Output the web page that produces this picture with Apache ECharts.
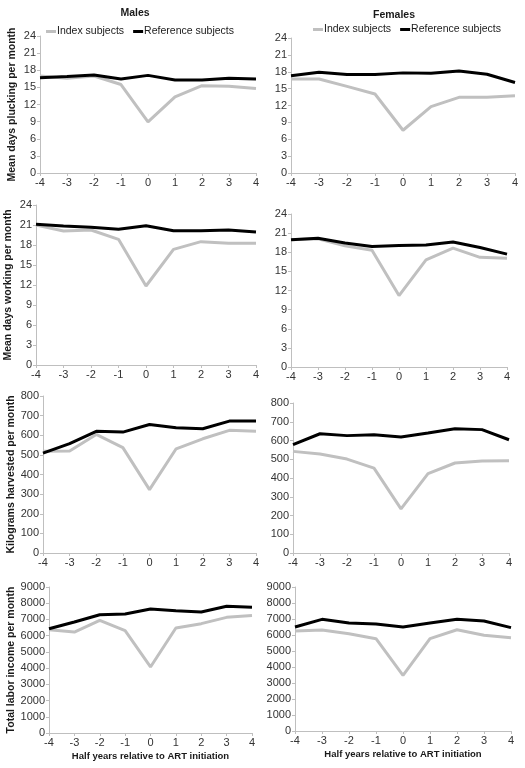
<!DOCTYPE html>
<html>
<head>
<meta charset="utf-8">
<script src="https://cdn.jsdelivr.net/npm/echarts@6/dist/echarts.min.js"></script>
<style>
html,body{margin:0;padding:0;background:#fff;}
#chart{width:525px;height:768px;}
</style>
</head>
<body>
<div id="chart"></div>
<script>
// ---- data ----
const xCats = ['-4', '-3', '-2', '-1', '0', '1', '2', '3', '4'];
const seriesNames = ['Index subjects', 'Reference subjects'];
const panelTitles = ['Males', 'Females'];
const yNames = ['Mean days plucking per month', 'Mean days working per month', 'Kilograms harvested per month', 'Total labor income per month'];
const xName = 'Half years relative to ART initiation';

const malesPluckIndex = [17.0, 16.6, 17.0, 15.5, 8.95, 13.35, 15.3, 15.2, 14.8];
const malesPluckRef   = [16.7, 16.9, 17.15, 16.45, 17.1, 16.3, 16.3, 16.6, 16.45];
const femalesPluckIndex = [16.7, 16.7, 15.4, 14.05, 7.6, 11.8, 13.45, 13.45, 13.75];
const femalesPluckRef   = [17.3, 17.9, 17.5, 17.5, 17.8, 17.75, 18.15, 17.55, 16.1];

const malesWorkIndex = [21.0, 20.1, 20.25, 18.85, 11.85, 17.35, 18.5, 18.25, 18.25];
const malesWorkRef   = [21.1, 20.85, 20.65, 20.35, 20.9, 20.15, 20.15, 20.25, 19.95];
const femalesWorkIndex = [19.95, 20.1, 19.0, 18.3, 11.2, 16.8, 18.65, 17.2, 17.05];
const femalesWorkRef   = [19.95, 20.2, 19.45, 18.9, 19.05, 19.15, 19.6, 18.75, 17.7];

const malesHarvIndex = [518, 520, 604, 537, 323, 531, 582, 625, 621];
const malesHarvRef   = [509, 557, 620, 616, 655, 638, 633, 672, 672];
const femalesHarvIndex = [542, 528, 501, 453, 235, 423, 480, 491, 492];
const femalesHarvRef   = [578, 636, 626, 631, 619, 640, 663, 658, 604];

const malesIncIndex = [6370, 6220, 6940, 6310, 4070, 6470, 6740, 7130, 7250];
const malesIncRef   = [6430, 6840, 7290, 7330, 7640, 7540, 7460, 7810, 7750];
const femalesIncIndex = [6250, 6310, 6080, 5770, 3480, 5770, 6330, 5980, 5830];
const femalesIncRef   = [6500, 6980, 6750, 6690, 6500, 6750, 6980, 6880, 6460];

const yMax = [24, 24, 800, 9000];
const yInterval = [3, 3, 100, 1000];

// ---- layout ----
const grids = [
  {left: 40, top: 36, width: 216, height: 137},
  {left: 291, top: 38, width: 224, height: 135},
  {left: 36, top: 205, width: 220, height: 160},
  {left: 291, top: 214, width: 216, height: 153},
  {left: 43, top: 396, width: 213, height: 157},
  {left: 293, top: 403, width: 216, height: 150},
  {left: 49, top: 587, width: 203, height: 146},
  {left: 295, top: 587, width: 216, height: 144}
];
const panelData = [
  [malesPluckIndex, malesPluckRef], [femalesPluckIndex, femalesPluckRef],
  [malesWorkIndex, malesWorkRef], [femalesWorkIndex, femalesWorkRef],
  [malesHarvIndex, malesHarvRef], [femalesHarvIndex, femalesHarvRef],
  [malesIncIndex, malesIncRef], [femalesIncIndex, femalesIncRef]
];

const FONT = 'Liberation Sans, Arial, sans-serif';
const axisColor = '#bfbfbf';
const labelColor = '#333333';
const xAxes = [], yAxes = [], series = [];

grids.forEach((g, i) => {
  const row = Math.floor(i / 2), col = i % 2;
  const isBottom = row === 3;
  xAxes.push({
    type: 'category', gridIndex: i, data: xCats, boundaryGap: false,
    axisLine: {lineStyle: {color: axisColor, width: 1}},
    axisTick: {show: true, length: 3, lineStyle: {color: axisColor}},
    axisLabel: {color: labelColor, fontSize: 11, fontFamily: FONT, margin: 4},
    name: isBottom ? xName : '', nameLocation: 'middle', nameGap: 18,
    nameTextStyle: {fontWeight: 'bold', fontSize: 9.5, color: '#1a1a1a', fontFamily: FONT}
  });
  yAxes.push({
    type: 'value', gridIndex: i, min: 0, max: yMax[row], interval: yInterval[row],
    splitLine: {show: false},
    axisLine: {show: true, lineStyle: {color: axisColor, width: 1}},
    axisTick: {show: true, length: 3, lineStyle: {color: axisColor}},
    axisLabel: {color: labelColor, fontSize: 11, fontFamily: FONT, margin: 4,
                formatter: (v) => String(v)},
    name: col === 0 ? yNames[row] : '', nameLocation: 'middle', nameGap: 22, nameRotate: 90,
    nameTextStyle: {fontWeight: 'bold', fontSize: 10.5, color: '#1a1a1a', fontFamily: FONT}
  });
  series.push({
    name: seriesNames[0], type: 'line', xAxisIndex: i, yAxisIndex: i,
    data: panelData[i][0], showSymbol: false, symbol: 'none',
    lineStyle: {color: '#c0c0c0', width: 3}, itemStyle: {color: '#c0c0c0'}, z: 2
  });
  series.push({
    name: seriesNames[1], type: 'line', xAxisIndex: i, yAxisIndex: i,
    data: panelData[i][1], showSymbol: false, symbol: 'none',
    lineStyle: {color: '#000000', width: 3}, itemStyle: {color: '#000000'}, z: 3
  });
});

const legendBase = {
  data: seriesNames, icon: 'rect', itemWidth: 10, itemHeight: 3, itemGap: 9,
  selectedMode: false,
  textStyle: {fontSize: 10.5, color: '#1a1a1a', fontFamily: FONT, padding: [0, 0, 0, -4]}
};

const option = {
  animation: false,
  backgroundColor: '#ffffff',
  title: [
    {text: panelTitles[0], left: 130, top: 3, textAlign: 'center',
     textStyle: {fontSize: 10.5, fontWeight: 'bold', color: '#1a1a1a', fontFamily: FONT}},
    {text: panelTitles[1], left: 389, top: 5, textAlign: 'center',
     textStyle: {fontSize: 10.5, fontWeight: 'bold', color: '#1a1a1a', fontFamily: FONT}}
  ],
  legend: [
    Object.assign({left: 41, top: 21}, legendBase),
    Object.assign({left: 308, top: 19}, legendBase)
  ],
  grid: grids,
  xAxis: xAxes,
  yAxis: yAxes,
  series: series
};

const chart = echarts.init(document.getElementById('chart'), null, {renderer: 'canvas'});
chart.setOption(option);
</script>
</body>
</html>
